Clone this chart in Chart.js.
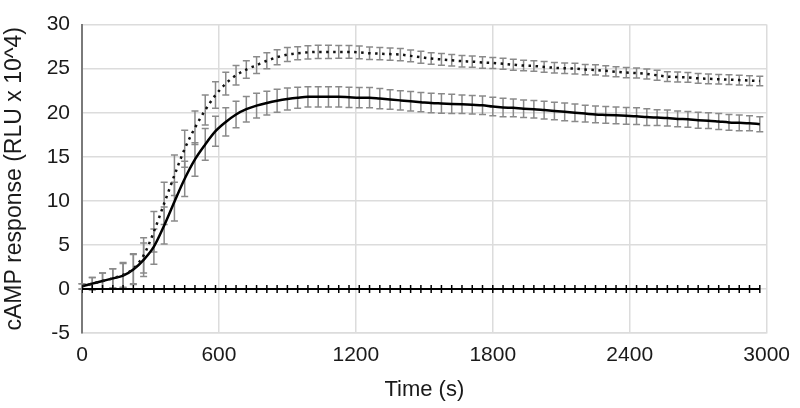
<!DOCTYPE html>
<html>
<head>
<meta charset="utf-8">
<script src="https://cdn.jsdelivr.net/npm/chart.js@4/dist/chart.umd.min.js"></script>
<style>
  html, body { margin: 0; padding: 0; background: #fff; }
  #wrap { width: 800px; height: 408px; position: relative; }
</style>
</head>
<body>
<div id="wrap"><canvas id="c" width="800" height="408"></canvas></div>
<script>
// time points (s), every 45 s
const times = [0,45,90,135,180,225,270,315,360,405,450,495,540,585,630,675,720,765,810,855,
  900,945,990,1035,1080,1125,1170,1215,1260,1305,1350,1395,1440,1485,1530,1575,1620,1665,1710,1755,
  1800,1845,1890,1935,1980,2025,2070,2115,2160,2205,2250,2295,2340,2385,2430,2475,2520,2565,2610,2655,
  2700,2745,2790,2835,2880,2925,2970];

// solid series
const solid = [0.3,0.6,0.9,1.2,1.5,2.2,3.3,4.8,7.2,9.9,12.5,14.7,16.4,17.9,18.95,19.8,20.4,20.8,21.1,21.35,
  21.55,21.7,21.8,21.8,21.8,21.8,21.75,21.7,21.7,21.6,21.5,21.4,21.3,21.2,21.1,21.05,21.0,20.95,20.9,20.85,
  20.7,20.6,20.55,20.45,20.4,20.3,20.2,20.1,20.0,19.9,19.8,19.75,19.7,19.65,19.6,19.5,19.45,19.4,19.3,19.25,
  19.15,19.1,19.0,18.9,18.85,18.8,18.7];
const solidErr = [0.3,0.7,0.9,1.1,1.4,1.7,1.9,2.0,2.1,2.2,2.0,1.9,1.8,1.7,1.6,1.5,1.45,1.4,1.35,1.3,
  1.25,1.2,1.15,1.15,1.15,1.15,1.15,1.15,1.15,1.15,1.1,1.1,1.1,1.1,1.1,1.1,1.1,1.05,1.05,1.05,
  1.05,1.05,1.0,1.0,1.0,1.0,1.0,1.0,1.0,0.95,0.95,0.95,0.95,0.95,0.95,0.95,0.9,0.9,0.9,0.9,
  0.9,0.9,0.9,0.9,0.9,0.85,0.85];

// dotted series
const dotted = [0.3,0.6,0.9,1.2,1.6,2.3,3.8,6.5,9.7,12.9,15.9,18.3,20.3,22.0,23.3,24.25,24.9,25.4,25.9,26.3,
  26.6,26.75,26.85,26.9,26.9,26.9,26.9,26.85,26.75,26.7,26.65,26.6,26.45,26.3,26.15,26.05,25.95,25.85,25.8,25.7,
  25.65,25.55,25.45,25.35,25.3,25.2,25.1,25.05,25.0,24.9,24.85,24.75,24.65,24.55,24.5,24.4,24.25,24.1,24.05,24.0,
  23.9,23.85,23.8,23.75,23.7,23.65,23.6];
const dottedErr = [0.3,0.7,0.9,1.1,1.4,1.7,2.0,2.3,2.4,2.3,2.1,1.9,1.7,1.5,1.3,1.1,1.0,0.95,0.9,0.85,
  0.8,0.75,0.75,0.75,0.75,0.72,0.72,0.72,0.7,0.7,0.7,0.7,0.68,0.68,0.66,0.66,0.65,0.65,0.64,0.64,
  0.62,0.62,0.62,0.6,0.6,0.6,0.6,0.6,0.6,0.58,0.58,0.58,0.58,0.57,0.57,0.57,0.56,0.56,0.56,0.55,
  0.55,0.55,0.55,0.55,0.55,0.55,0.55];

// baseline series
const baseline = [0,0,0,0,0,0,0,0,0,0,0,0,0,0,0,0,0,0,0,0,
  0,0,0,0,0,0,0,0,0,0,0,0,0,0,0,0,0,0,0,0,
  0,0,0,0,0,0,0,0,0,0,0,0,0,0,0,0,0,0,0,0,
  0,0,0,0,0,0,0];

const xTicks = [0,600,1200,1800,2400,3000];
const yTicks = [-5,0,5,10,15,20,25,30];

const toXY = (arr) => arr.map((v, i) => ({ x: times[i], y: v }));
const errs = { 0: dottedErr, 1: solidErr };

const errorBarPlugin = {
  id: 'errorBars',
  beforeDatasetsDraw(chart) {
    const ctx = chart.ctx;
    const yScale = chart.scales.y;
    ctx.save();
    ctx.strokeStyle = '#8a8a8a';
    ctx.lineWidth = 1.5;
    [0, 1].forEach(di => {
      const meta = chart.getDatasetMeta(di);
      const ds = chart.data.datasets[di];
      meta.data.forEach((pt, i) => {
        const v = ds.data[i].y, e = errs[di][i];
        const yt = yScale.getPixelForValue(v + e);
        const yb = yScale.getPixelForValue(v - e);
        const x = pt.x, w = 3.5;
        ctx.beginPath();
        ctx.moveTo(x, yt); ctx.lineTo(x, yb);
        ctx.moveTo(x - w, yt); ctx.lineTo(x + w, yt);
        ctx.moveTo(x - w, yb); ctx.lineTo(x + w, yb);
        ctx.stroke();
      });
    });
    ctx.restore();
  }
};

const FONT = "'Liberation Sans', Arial, Helvetica, sans-serif";
Chart.defaults.font.family = FONT;
Chart.defaults.color = '#1a1a1a';

new Chart(document.getElementById('c'), {
  type: 'line',
  data: {
    datasets: [
      {
        label: 'dotted',
        data: toXY(dotted),
        borderColor: '#111',
        borderWidth: 2.5,
        borderDash: [2.5, 4.5],
        pointRadius: 0,
        cubicInterpolationMode: 'monotone',
        fill: false
      },
      {
        label: 'solid',
        data: toXY(solid),
        borderColor: '#000',
        borderWidth: 2.5,
        pointRadius: 0,
        cubicInterpolationMode: 'monotone',
        fill: false
      },
      {
        label: 'baseline',
        data: toXY(baseline),
        borderColor: '#000',
        borderWidth: 2,
        pointStyle: 'line',
        rotation: 90,
        pointRadius: 4,
        pointBorderWidth: 1.5,
        pointBorderColor: '#000',
        fill: false
      }
    ]
  },
  options: {
    responsive: false,
    animation: false,
    devicePixelRatio: 1,
    layout: { padding: { top: 13, right: 29, left: 0, bottom: 0 } },
    plugins: { legend: { display: false }, tooltip: { enabled: false } },
    scales: {
      x: {
        type: 'linear',
        min: 0, max: 3000,
        afterBuildTicks: (s) => { s.ticks = xTicks.map(v => ({ value: v })); },
        ticks: { font: { size: 21 }, padding: 10, color: '#1a1a1a', maxRotation: 0,
                 callback: (v) => String(v) },
        grid: { color: '#dcdcdc', lineWidth: 1.5, drawTicks: false },
        border: { color: '#dcdcdc', width: 1.5 },
        title: { display: true, text: 'Time (s)', font: { size: 22 }, color: '#1a1a1a', padding: { top: 0, bottom: 5 } },
        afterFit: (s) => { s.height = 75; }
      },
      y: {
        type: 'linear',
        min: -5, max: 30,
        afterBuildTicks: (s) => { s.ticks = yTicks.map(v => ({ value: v })); },
        ticks: { font: { size: 21 }, padding: 12, color: '#1a1a1a',
                 callback: (v) => String(v) },
        grid: { color: '#dcdcdc', lineWidth: 1.5, drawTicks: false },
        border: { color: '#7a7a7a', width: 2 },
        title: { display: true, text: 'cAMP response (RLU x 10^4)', font: { size: 23 }, color: '#1a1a1a', padding: { top: 1, bottom: 0 } },
        afterFit: (s) => { s.width = 82; }
      }
    }
  },
  plugins: [errorBarPlugin]
});
</script>
</body>
</html>
